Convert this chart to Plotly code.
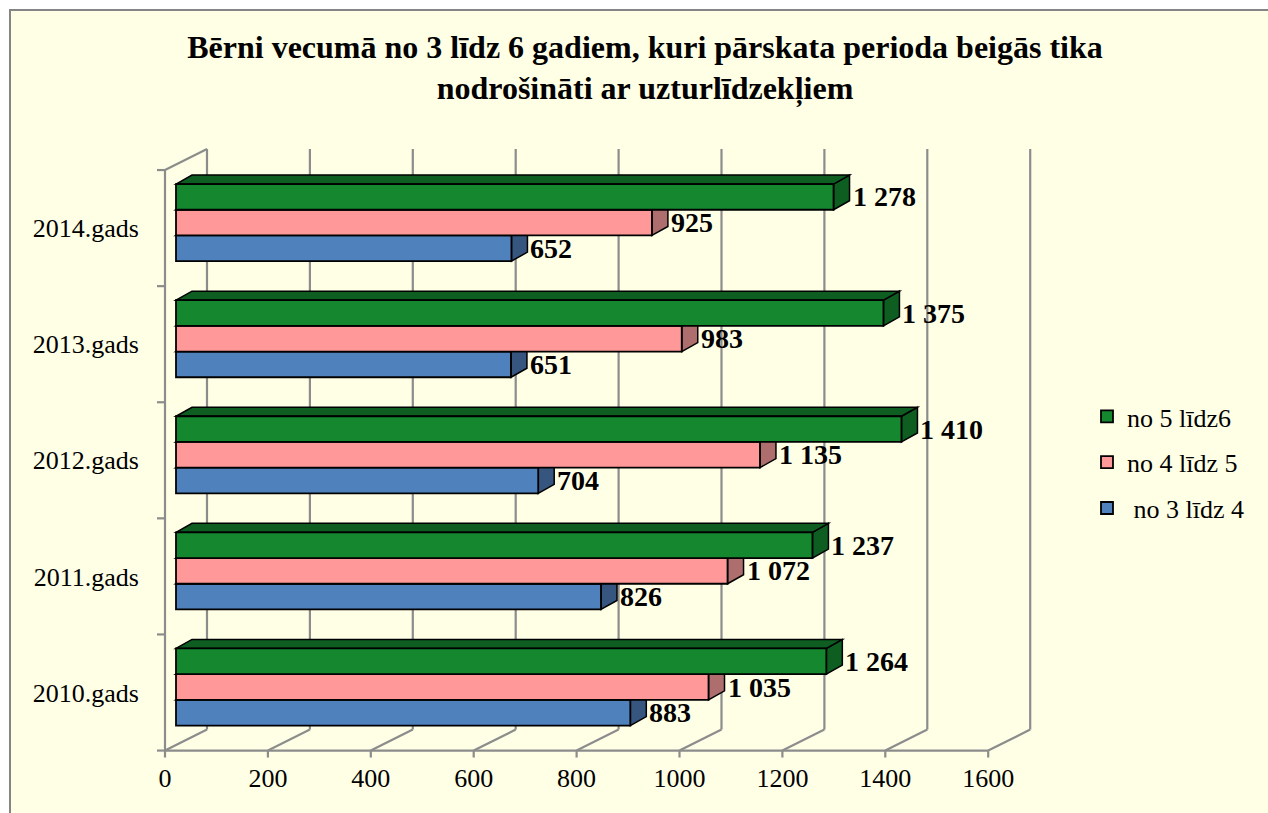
import plotly.graph_objects as go

# data
years = ["2010.gads", "2011.gads", "2012.gads", "2013.gads", "2014.gads"]
age_3_4 = [883, 826, 704, 651, 652]
age_4_5 = [1035, 1072, 1135, 983, 925]
age_5_6 = [1264, 1237, 1410, 1375, 1278]
x_ticks = [0, 200, 400, 600, 800, 1000, 1200, 1400, 1600]

# name, values, front colour, side colour (bottom bar first)
series = [
    ("\u00a0no 3 līdz 4", age_3_4, "#4F81BD", "#36557F"),
    ("no 4 līdz 5", age_4_5, "#FF9999", "#AE6E6E"),
    ("no 5 līdz6", age_5_6, "#15872F", "#0E5E22"),
]

FONT = "Liberation Serif"
GRID = "#8C8C8C"

# page geometry (pixels)
W, H = 1268, 813
L, R, T, B = 140, 1050, 140, 758
SX = 0.5145      # px per unit on value axis
SY = 116.1       # px per category
X0_PX = 176      # pixel of value 0 on the bar front plane
Y0_PX = 687      # pixel of first category centre

def dx(px):
    return px / SX

def dy(px):
    return px / SY

x_range = [(L - X0_PX) / SX, (R - X0_PX) / SX]
y_range = [(Y0_PX - B) / SY, (Y0_PX - T) / SY]

bar_w = dy(25.7)
depth_x, depth_y = dx(16), dy(9)          # bar depth
front_x, front_y = dx(-11), dy(-5.5)      # front plane vs bar plane
back_x, back_y = dx(31), dy(15.5)         # back wall vs bar plane

n = len(years)
lo, hi = -0.5, n - 0.5
x_max = x_ticks[-1]

shapes = []

# chart area background with grey frame
shapes.append(dict(
    type="rect", xref="paper", yref="paper", layer="below",
    x0=(10 - L) / (R - L), x1=(W + 20 - L) / (R - L),
    y0=(B - H - 20) / (B - T), y1=(B - 10) / (B - T),
    fillcolor="#FFFFE6", line=dict(color="#858585", width=2),
))

def seg(x0, y0, x1, y1):
    shapes.append(dict(type="line", xref="x", yref="y", layer="below",
                       x0=x0, y0=y0, x1=x1, y1=y1,
                       line=dict(color=GRID, width=2.2)))

# back wall gridlines, floor lines and tick marks
for t in x_ticks:
    seg(t + back_x, lo + back_y, t + back_x, hi + back_y)
    seg(t + front_x, lo + front_y, t + back_x, lo + back_y)
    seg(t + front_x, lo + front_y, t + front_x, lo + front_y - dy(7))

# front axis line, left axis, left wall top edge
seg(front_x, lo + front_y, x_max + front_x, lo + front_y)
seg(front_x, lo + front_y, front_x, hi + front_y)
seg(front_x, hi + front_y, back_x, hi + back_y)
for k in range(n + 1):
    c = lo + k
    seg(front_x - dx(8), c + front_y, front_x, c + front_y)

fig = go.Figure()

for k, (name, vals, col, side) in enumerate(series):
    off = (k - 1.5) * bar_w
    for i, v in enumerate(vals):
        y0, y1 = i + off, i + off + bar_w
        # side face
        shapes.append(dict(
            type="path", xref="x", yref="y", layer="below",
            path=(f"M {v},{y0} L {v + depth_x},{y0 + depth_y} "
                  f"L {v + depth_x},{y1 + depth_y} L {v},{y1} Z"),
            fillcolor=side, line=dict(color="black", width=1.5),
        ))
        # top face
        shapes.append(dict(
            type="path", xref="x", yref="y", layer="below",
            path=(f"M 0,{y1} L {depth_x},{y1 + depth_y} "
                  f"L {v + depth_x},{y1 + depth_y} L {v},{y1} Z"),
            fillcolor=side, line=dict(color="black", width=1.5),
        ))
    fig.add_trace(go.Bar(
        x=vals, y=list(range(n)), orientation="h",
        width=bar_w, offset=off, name=name, legendgroup=name,
        legendrank=len(series) - k,
        marker=dict(color=col, line=dict(color="black", width=1.8)),
        hovertemplate="%{x}<extra></extra>",
    ))

annotations = []
for k, (name, vals, col, side) in enumerate(series):
    off = (k - 1.5) * bar_w
    for i, v in enumerate(vals):
        annotations.append(dict(
            x=v, y=i + off + bar_w / 2, xref="x", yref="y",
            text=f"{v:,}".replace(",", " "), showarrow=False,
            xanchor="left", yanchor="middle", xshift=17,
            font=dict(family=FONT, size=28, color="black", weight="bold"),
        ))

fig.update_layout(
    width=W, height=H,
    margin=dict(l=L, r=W - R, t=T, b=H - B),
    paper_bgcolor="white",
    plot_bgcolor="rgba(0,0,0,0)",
    barmode="overlay",
    shapes=shapes,
    annotations=annotations,
    title=dict(
        text=("<b>Bērni vecumā no 3 līdz 6 gadiem, kuri pārskata perioda beigās tika"
              "<br>nodrošināti ar uzturlīdzekļiem</b>"),
        font=dict(family=FONT, size=32, color="black"),
        x=(645 - L) / (R - L), xref="paper", xanchor="center",
        y=1 - 57.5 / H, yref="container", yanchor="middle",
    ),
    xaxis=dict(
        range=x_range, showgrid=False, zeroline=False, showline=False,
        tickvals=[t + front_x for t in x_ticks],
        ticktext=[str(t) for t in x_ticks],
        ticks="", ticklabelstandoff=2,
        tickfont=dict(family=FONT, size=26, color="black"),
    ),
    yaxis=dict(
        range=y_range, showgrid=False, zeroline=False, showline=False,
        tickvals=[i + front_y for i in range(n)],
        ticktext=years, ticks="", ticklabelstandoff=0,
        tickfont=dict(family=FONT, size=26, color="black"),
    ),
    legend=dict(
        x=(1087 - L) / (R - L), xanchor="left",
        y=(B - 393) / (B - T), yanchor="top",
        traceorder="grouped", tracegroupgap=9,
        bgcolor="rgba(0,0,0,0)",
        font=dict(family=FONT, size=26, color="black"),
    ),
)

# drop the default 8px body margin so the figure sits at the page corner
fig.write_html("out.html", config={"displayModeBar": False},
               post_script="document.body.style.margin = '0';")
